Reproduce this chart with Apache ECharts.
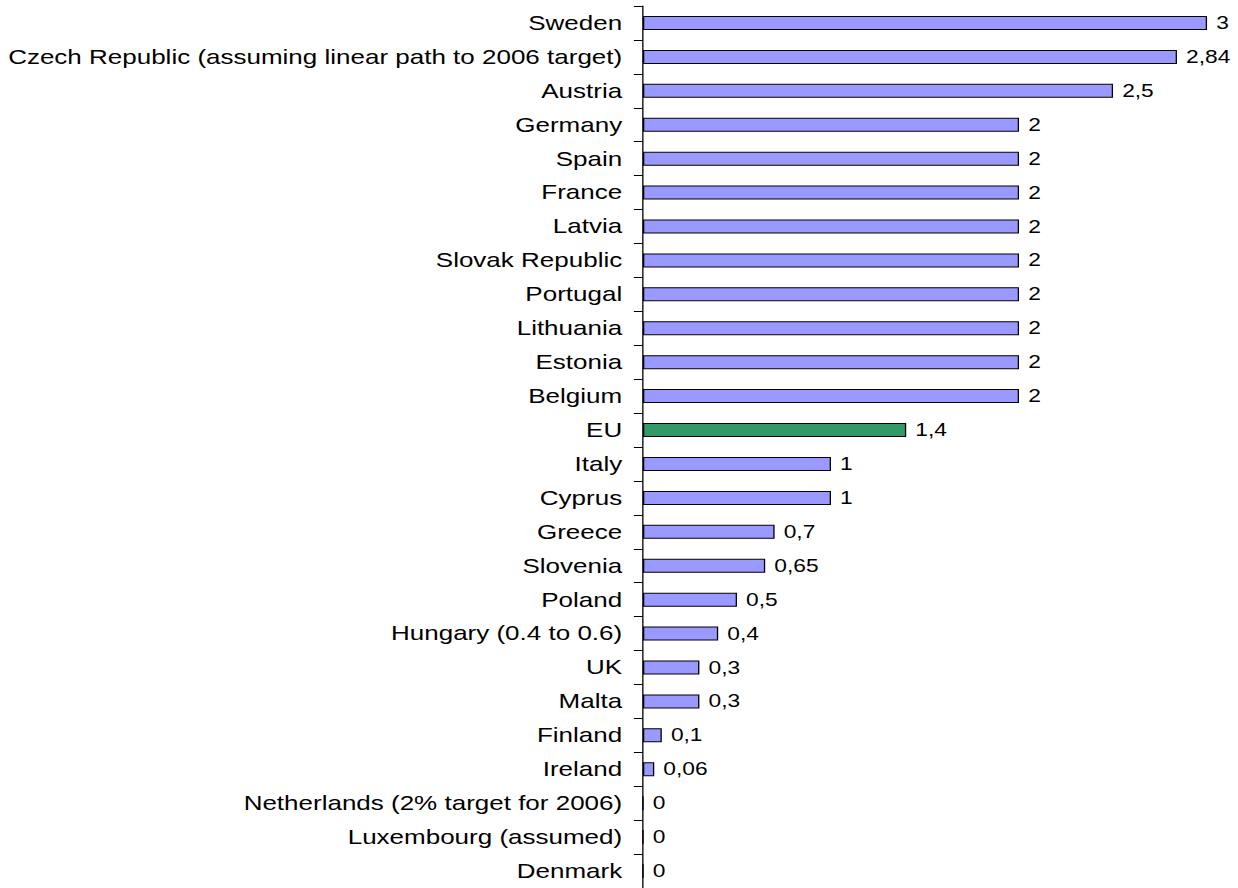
<!DOCTYPE html>
<html>
<head>
<meta charset="utf-8">
<script src="https://cdn.jsdelivr.net/npm/echarts@6/dist/echarts.min.js"></script>
<style>
html, body { margin: 0; padding: 0; background: #fff; overflow: hidden; }
#wrap { width: 1238px; height: 888px; overflow: hidden; }
#chart { width: 952.3px; height: 888px; transform: scaleX(1.3); transform-origin: 0 0; }
</style>
</head>
<body>
<div id="wrap"><div id="chart"></div></div>
<script>
const categories = [
  "Sweden",
  "Czech Republic (assuming linear path to 2006 target)",
  "Austria",
  "Germany",
  "Spain",
  "France",
  "Latvia",
  "Slovak Republic",
  "Portugal",
  "Lithuania",
  "Estonia",
  "Belgium",
  "EU",
  "Italy",
  "Cyprus",
  "Greece",
  "Slovenia",
  "Poland",
  "Hungary (0.4 to 0.6)",
  "UK",
  "Malta",
  "Finland",
  "Ireland",
  "Netherlands (2% target for 2006)",
  "Luxembourg (assumed)",
  "Denmark"
];
const values = [3, 2.84, 2.5, 2, 2, 2, 2, 2, 2, 2, 2, 2, 1.4, 1, 1, 0.7, 0.65, 0.5, 0.4, 0.3, 0.3, 0.1, 0.06, 0, 0, 0];
const highlighted = ["EU"];

const barColor = "#9999FF";
const highlightColor = "#339966";

const seriesData = values.map(function (v, i) {
  const hl = highlighted.indexOf(categories[i]) >= 0;
  return { value: v, itemStyle: { color: hl ? highlightColor : barColor } };
});

const chart = echarts.init(document.getElementById('chart'), null, { renderer: 'svg' });
chart.setOption({
  animation: false,
  backgroundColor: '#ffffff',
  grid: { left: 494.6, top: 6, width: 433.9, height: 885, containLabel: false },
  xAxis: {
    type: 'value', min: 0, max: 3, show: false
  },
  yAxis: {
    type: 'category',
    inverse: true,
    data: categories,
    axisLine: { show: true, lineStyle: { color: '#000', width: 1 } },
    axisTick: { show: true, length: 7, lineStyle: { color: '#000', width: 1 } },
    axisLabel: { color: '#000', fontSize: 20, fontFamily: 'Liberation Sans, Arial, sans-serif', margin: 16 },
    splitLine: { show: false }
  },
  series: [{
    type: 'bar',
    data: seriesData,
    barWidth: 14,
    itemStyle: { borderColor: '#000', borderWidth: 1 },
    label: {
      show: true,
      position: 'right',
      distance: 7,
      color: '#000',
      fontSize: 17.5,
      fontFamily: 'Liberation Sans, Arial, sans-serif',
      formatter: function (p) { return String(p.value).replace('.', ','); }
    }
  }]
});
</script>
</body>
</html>
